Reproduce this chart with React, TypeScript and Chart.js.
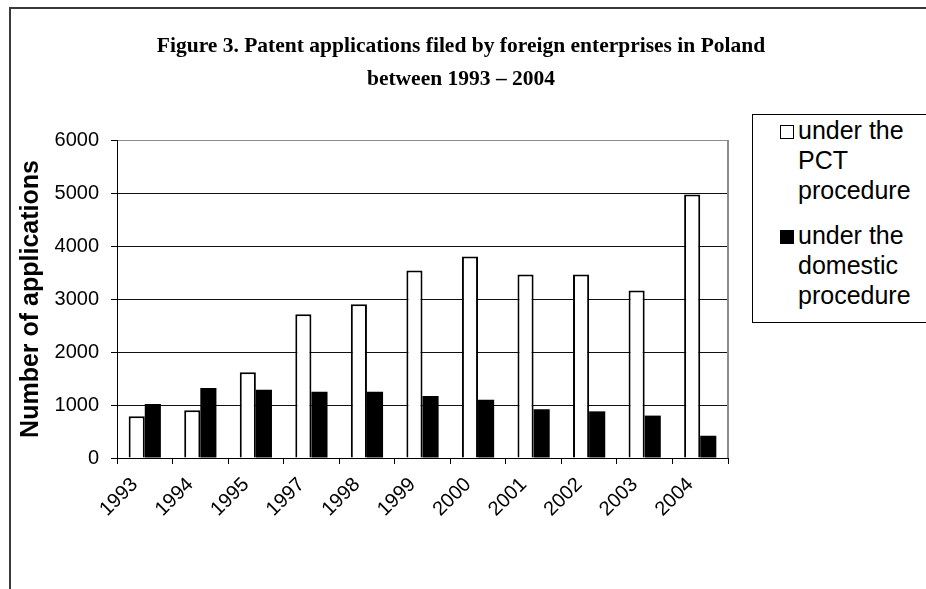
import React, { useEffect, useRef } from "react";
import { Chart, registerables } from "chart.js";

Chart.register(...registerables);

const categories = ["1993", "1994", "1995", "1997", "1998", "1999", "2000", "2001", "2002", "2003", "2004"];
const pctValues = [790, 900, 1620, 2710, 2900, 3540, 3800, 3460, 3460, 3160, 4970];
const domesticValues = [1020, 1320, 1290, 1250, 1250, 1170, 1100, 920, 880, 800, 420];
const yTickMin = 0;
const yTickMax = 6000;
const yTickStep = 1000;
const seriesNames = ["under the PCT procedure", "under the domestic procedure"];
const legendLines = [
  ["under the", "PCT", "procedure"],
  ["under the", "domestic", "procedure"],
];
const titleLines = [
  "Figure 3. Patent applications filed by foreign enterprises in Poland",
  "between 1993 – 2004",
];
const yAxisTitle = "Number of applications";

const SANS = "'Liberation Sans', Arial, sans-serif";
const SERIF = "'Liberation Serif', 'Times New Roman', serif";

const framePlugin = {
  id: "frame",
  afterDraw(chart: any) {
    const { ctx, chartArea } = chart;
    ctx.save();
    ctx.strokeStyle = "#8c8c8c";
    ctx.lineWidth = 2;
    ctx.beginPath();
    ctx.moveTo(chartArea.right, chartArea.top);
    ctx.lineTo(chartArea.right, chartArea.bottom);
    ctx.stroke();
    ctx.restore();
  },
};

export default function App() {
  const canvasRef = useRef<HTMLCanvasElement | null>(null);

  useEffect(() => {
    if (!canvasRef.current) return;
    const chart = new Chart(canvasRef.current, {
      type: "bar",
      data: {
        labels: categories,
        datasets: [
          {
            label: seriesNames[0],
            data: pctValues,
            backgroundColor: "#ffffff",
            borderColor: "#000000",
            borderWidth: 2,
            categoryPercentage: 0.58,
            barPercentage: 1.0,
          },
          {
            label: seriesNames[1],
            data: domesticValues,
            backgroundColor: "#000000",
            borderColor: "#000000",
            borderWidth: 0,
            categoryPercentage: 0.58,
            barPercentage: 1.0,
          },
        ],
      },
      options: {
        animation: false,
        responsive: false,
        maintainAspectRatio: false,
        devicePixelRatio: 1,
        layout: { padding: { top: 140, right: 198, left: 0, bottom: 0 } },
        plugins: {
          legend: { display: false },
          title: { display: false },
          tooltip: { enabled: false },
        },
        scales: {
          x: {
            grid: {
              offset: true,
              drawOnChartArea: false,
              drawTicks: true,
              tickLength: 6,
              color: "#000000",
              lineWidth: 1,
            },
            border: { display: true, color: "#000000", width: 1 },
            ticks: {
              color: "#000000",
              font: { family: SANS, size: 20 },
              minRotation: 45,
              maxRotation: 45,
              padding: 9,
              labelOffset: -10,
              autoSkip: false,
            },
            afterFit: (s: any) => {
              s.height = 131;
            },
          },
          y: {
            min: yTickMin,
            max: yTickMax,
            ticks: {
              stepSize: yTickStep,
              color: "#000000",
              font: { family: SANS, size: 20 },
              padding: 12,
              callback: (v: any) => String(v),
            },
            grid: {
              color: (c: any) => (c.tick && c.tick.value === yTickMax ? "#8c8c8c" : "#111111"),
              tickColor: "#000000",
              tickLength: 6,
              drawTicks: true,
              lineWidth: 1,
            },
            border: { display: true, color: "#000000", width: 1 },
            title: {
              display: true,
              text: yAxisTitle,
              color: "#000000",
              font: { family: SANS, size: 25, weight: "bold" },
              padding: { top: 16, bottom: 0 },
            },
            afterFit: (s: any) => {
              s.width = 117;
            },
          },
        },
      },
      plugins: [framePlugin],
    } as any);
    return () => chart.destroy();
  }, []);

  const lineTops = [0, 30, 60, 105, 135, 165];
  const markerTops = [10, 115];

  return (
    <div>
      <div
        style={{
          position: "fixed",
          left: 9,
          top: 7,
          width: 1200,
          height: 1200,
          border: "2px solid #3a3a3a",
          boxSizing: "border-box",
          background: "#ffffff",
        }}
      />
      <canvas
        ref={canvasRef}
        width={926}
        height={589}
        style={{ position: "fixed", left: 0, top: 0, width: 926, height: 589 }}
      />
      <div
        style={{
          position: "fixed",
          left: 0,
          top: 29,
          width: 922,
          textAlign: "center",
          fontFamily: SERIF,
          fontWeight: "bold",
          fontSize: 21.5,
          lineHeight: "33px",
          color: "#000",
        }}
      >
        {titleLines.map((t, i) => (
          <div key={i}>{t}</div>
        ))}
      </div>
      <div
        style={{
          position: "fixed",
          left: 752,
          top: 114,
          width: 220,
          height: 209,
          border: "1px solid #000",
          boxSizing: "border-box",
          background: "#ffffff",
          fontFamily: SANS,
          fontSize: 25,
          color: "#000",
        }}
      >
        {legendLines.map((lines, si) => (
          <React.Fragment key={si}>
            <div
              style={{
                position: "absolute",
                left: 27,
                top: markerTops[si],
                width: 14,
                height: 14,
                boxSizing: "border-box",
                border: "1.5px solid #000",
                background: si === 0 ? "#fff" : "#000",
              }}
            />
            {lines.map((ln, li) => (
              <div
                key={li}
                style={{
                  position: "absolute",
                  left: 45,
                  top: lineTops[si * 3 + li],
                  lineHeight: "30px",
                  whiteSpace: "nowrap",
                }}
              >
                {ln}
              </div>
            ))}
          </React.Fragment>
        ))}
      </div>
    </div>
  );
}
